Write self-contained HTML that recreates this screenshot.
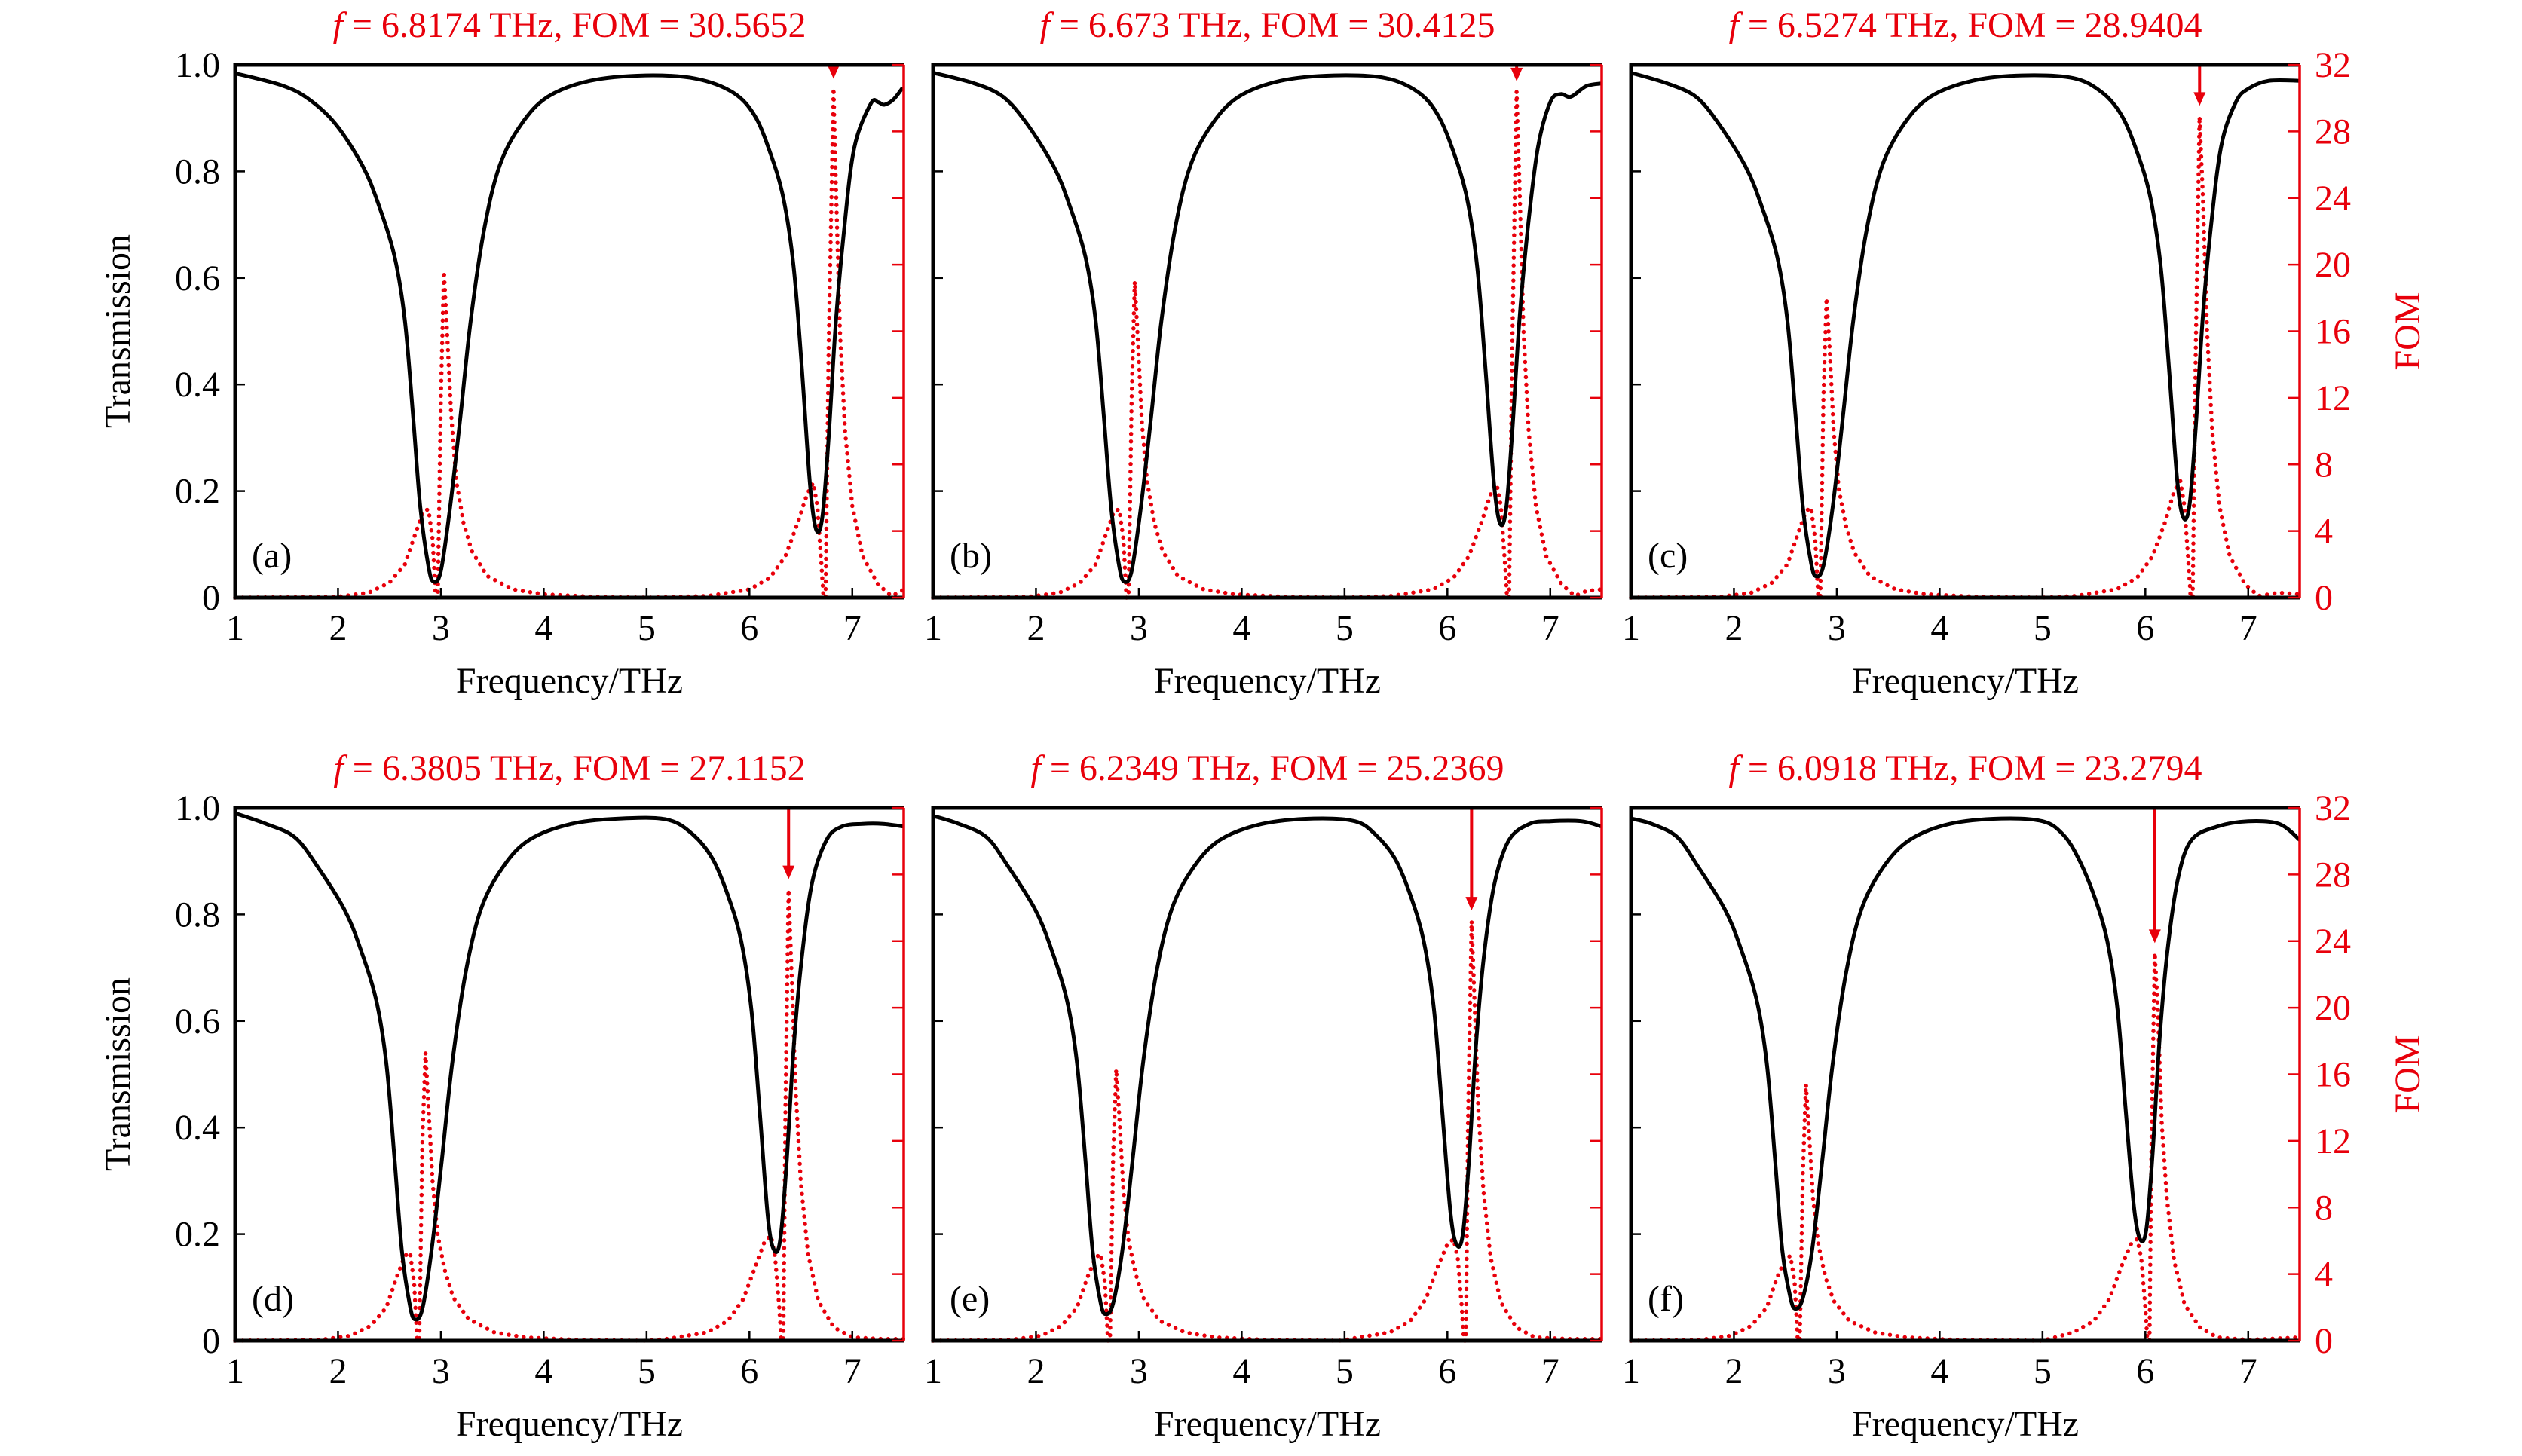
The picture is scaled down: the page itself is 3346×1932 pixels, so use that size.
<!DOCTYPE html>
<html><head><meta charset="utf-8"><style>
html,body{margin:0;padding:0;background:#fff;}
svg{display:block;}
text{font-family:"Liberation Serif","DejaVu Serif",serif;}
</style></head><body>
<svg id="fig" xmlns="http://www.w3.org/2000/svg" width="3346" height="1932" viewBox="0 0 3346 1932" font-family="Liberation Serif, DejaVu Serif, serif"></svg>
<script>
// ---- data ----
const panelLetters = ["(a)","(b)","(c)","(d)","(e)","(f)"];
const peakFreqs = ["6.8174","6.673","6.5274","6.3805","6.2349","6.0918"];
const peakFoms = ["30.5652","30.4125","28.9404","27.1152","25.2369","23.2794"];
const xTicks = [1,2,3,4,5,6,7];
const yTicksLeft = [0,0.2,0.4,0.6,0.8,1.0];
const yTickLabelsLeft = ["0","0.2","0.4","0.6","0.8","1.0"];
const yTicksRight = [0,4,8,12,16,20,24,28,32];

const transA = [[1,.984],[1.46,.961],[1.72,.935],[1.98,.888],[2.24,.81],[2.39,.74],[2.55,.64],[2.65,.52],[2.73,.34],[2.80,.17],[2.88,.058],[2.93,.03],[3.0,.05],[3.09,.17],[3.19,.34],[3.29,.52],[3.42,.69],[3.57,.81],[3.78,.888],[4.04,.94],[4.45,.97],[4.99,.98],[5.48,.974],[5.84,.948],[6.05,.905],[6.20,.836],[6.33,.75],[6.43,.62],[6.51,.43],[6.59,.21],[6.65,.127],[6.71,.153],[6.77,.30],[6.84,.516],[6.92,.69],[7.02,.845],[7.18,.927],[7.25,.93],[7.31,.925],[7.4,.935],[7.49,.957]];
const transB = [[1,.985],[1.4,.965],[1.68,.94],[1.91,.89],[2.17,.81],[2.32,.74],[2.48,.64],[2.58,.52],[2.66,.34],[2.73,.17],[2.81,.058],[2.86,.03],[2.93,.05],[3.02,.17],[3.12,.34],[3.22,.52],[3.35,.69],[3.50,.81],[3.71,.888],[3.97,.94],[4.38,.97],[4.9,.98],[5.4,.975],[5.72,.948],[5.91,.905],[6.06,.836],[6.19,.75],[6.29,.62],[6.37,.43],[6.45,.22],[6.51,.14],[6.57,.165],[6.63,.31],[6.70,.52],[6.78,.69],[6.88,.845],[7.0,.93],[7.1,.945],[7.2,.94],[7.35,.96],[7.5,.965]];
const transC = [[1,.985],[1.35,.965],[1.63,.94],[1.85,.89],[2.11,.81],[2.26,.74],[2.42,.64],[2.52,.52],[2.60,.34],[2.67,.17],[2.75,.065],[2.80,.04],[2.87,.06],[2.96,.17],[3.06,.34],[3.16,.52],[3.29,.69],[3.44,.81],[3.65,.888],[3.91,.94],[4.32,.97],[4.8,.98],[5.3,.975],[5.58,.948],[5.77,.905],[5.92,.836],[6.05,.75],[6.15,.62],[6.23,.43],[6.31,.22],[6.37,.15],[6.43,.175],[6.49,.32],[6.56,.53],[6.64,.70],[6.74,.85],[6.88,.93],[7.0,.955],[7.2,.97],[7.5,.97]];
const transD = [[1,.99],[1.3,.97],[1.58,.945],[1.8,.89],[2.06,.81],[2.21,.74],[2.37,.64],[2.47,.52],[2.55,.34],[2.62,.17],[2.70,.065],[2.75,.04],[2.82,.06],[2.91,.17],[3.01,.34],[3.11,.52],[3.24,.69],[3.39,.81],[3.60,.888],[3.86,.94],[4.27,.97],[4.75,.98],[5.2,.978],[5.45,.95],[5.64,.905],[5.79,.836],[5.92,.75],[6.02,.62],[6.10,.43],[6.18,.23],[6.24,.17],[6.30,.19],[6.36,.33],[6.43,.55],[6.51,.72],[6.61,.86],[6.75,.94],[6.9,.965],[7.1,.97],[7.3,.97],[7.5,.965]];
const transE = [[1,.985],[1.25,.97],[1.52,.945],[1.73,.89],[1.99,.81],[2.14,.74],[2.30,.64],[2.40,.52],[2.48,.34],[2.55,.17],[2.63,.07],[2.68,.05],[2.75,.07],[2.84,.17],[2.94,.34],[3.04,.52],[3.17,.69],[3.32,.81],[3.53,.888],[3.79,.94],[4.2,.97],[4.7,.98],[5.1,.975],[5.3,.95],[5.49,.905],[5.64,.836],[5.77,.75],[5.87,.62],[5.95,.43],[6.03,.24],[6.09,.18],[6.15,.20],[6.21,.34],[6.28,.56],[6.36,.73],[6.46,.86],[6.6,.94],[6.8,.97],[7.0,.975],[7.3,.975],[7.5,.965]];
const transF = [[1,.98],[1.2,.97],[1.45,.945],[1.65,.89],[1.91,.81],[2.06,.74],[2.22,.64],[2.32,.52],[2.40,.34],[2.47,.17],[2.55,.08],[2.60,.06],[2.67,.08],[2.76,.17],[2.86,.34],[2.96,.52],[3.09,.69],[3.24,.81],[3.45,.888],[3.71,.94],[4.1,.97],[4.6,.98],[5.0,.975],[5.2,.95],[5.35,.905],[5.5,.836],[5.63,.75],[5.73,.62],[5.81,.43],[5.89,.25],[5.95,.19],[6.01,.21],[6.07,.35],[6.14,.57],[6.22,.74],[6.32,.87],[6.45,.94],[6.7,.965],[7.0,.975],[7.3,.97],[7.5,.94]];

const fomA = [[1,0],[2.0,.05],[2.3,.3],[2.5,.9],[2.65,2],[2.75,3.8],[2.83,5.2],[2.88,5.3],[2.92,3.5],[2.95,0],[2.97,0],[3.0,12],[3.03,19.6],[3.06,16],[3.1,11],[3.15,7],[3.22,4.5],[3.3,2.8],[3.45,1.3],[3.7,.5],[4.0,.2],[4.5,.05],[5.0,0],[5.6,.1],[6.0,.5],[6.2,1.2],[6.35,2.5],[6.47,4.5],[6.56,6.2],[6.62,6.9],[6.66,5.5],[6.7,2],[6.72,0],[6.74,0],[6.77,15],[6.8174,30.6],[6.84,25],[6.88,16],[6.93,10],[7.0,5.5],[7.1,2.5],[7.25,.8],[7.38,.1],[7.45,.3],[7.5,.5]];
const fomB = [[1,0],[1.93,.05],[2.23,.3],[2.43,.9],[2.58,2],[2.68,3.8],[2.76,5.2],[2.81,5.3],[2.85,3.5],[2.88,0],[2.90,0],[2.93,12],[2.96,19],[2.99,15.5],[3.03,10.5],[3.08,7],[3.15,4.5],[3.23,2.8],[3.38,1.3],[3.63,.5],[3.93,.2],[4.43,.05],[5,0],[5.46,.1],[5.86,.5],[6.06,1.2],[6.21,2.5],[6.33,4.5],[6.42,6.2],[6.48,6.8],[6.52,5.5],[6.56,2],[6.58,0],[6.60,0],[6.63,15],[6.673,30.4],[6.70,25],[6.74,16],[6.79,10],[6.86,5.5],[6.96,2.5],[7.11,.8],[7.24,.1],[7.35,.4],[7.5,.5]];
const fomC = [[1,0],[1.87,.05],[2.17,.3],[2.37,.9],[2.52,2],[2.62,3.8],[2.70,5.2],[2.75,5.4],[2.79,3.5],[2.82,0],[2.84,0],[2.87,12],[2.90,18],[2.93,15],[2.97,10],[3.02,6.5],[3.09,4.3],[3.17,2.7],[3.32,1.3],[3.57,.5],[3.87,.2],[4.37,.05],[5,0],[5.32,.1],[5.72,.5],[5.92,1.2],[6.07,2.5],[6.19,4.5],[6.28,6.4],[6.34,7.0],[6.38,5.5],[6.42,2],[6.44,0],[6.46,0],[6.49,15],[6.527,28.9],[6.56,24],[6.60,16],[6.65,10],[6.72,5.5],[6.82,2.5],[6.97,.8],[7.1,.1],[7.3,.3],[7.5,.2]];
const fomD = [[1,0],[1.82,.05],[2.12,.3],[2.32,.9],[2.47,2],[2.57,3.8],[2.65,5.1],[2.70,5.3],[2.74,3.5],[2.77,0],[2.79,0],[2.82,12],[2.85,17.3],[2.88,14],[2.92,9.5],[2.97,6.3],[3.04,4.2],[3.12,2.6],[3.27,1.3],[3.52,.5],[3.82,.2],[4.32,.05],[5,0],[5.19,.1],[5.59,.5],[5.79,1.2],[5.94,2.5],[6.06,4.5],[6.15,6],[6.21,6.3],[6.25,5],[6.29,2],[6.31,0],[6.33,0],[6.35,14],[6.3805,27.1],[6.41,22],[6.45,15],[6.50,9.5],[6.57,5.2],[6.67,2.4],[6.82,.8],[7.0,.2],[7.3,.1],[7.5,.1]];
const fomE = [[1,0],[1.75,.05],[2.05,.3],[2.25,.9],[2.40,2],[2.50,3.8],[2.58,5],[2.63,5.2],[2.67,3.5],[2.70,0],[2.72,0],[2.75,11],[2.78,16.3],[2.81,13.5],[2.85,9],[2.90,6],[2.97,4],[3.05,2.5],[3.2,1.2],[3.45,.5],[3.75,.2],[4.25,.05],[5,0],[5.04,.1],[5.44,.5],[5.64,1.2],[5.79,2.5],[5.91,4.5],[6.0,5.8],[6.06,6.1],[6.1,5],[6.14,2],[6.16,0],[6.18,0],[6.2,13],[6.2349,25.2],[6.26,21],[6.3,14],[6.35,9],[6.42,5],[6.52,2.3],[6.67,.8],[6.85,.2],[7.2,.1],[7.5,.1]];
const fomF = [[1,0],[1.67,.05],[1.97,.3],[2.17,.9],[2.32,2],[2.42,3.8],[2.50,4.9],[2.55,5.1],[2.59,3.5],[2.62,0],[2.64,0],[2.67,10],[2.70,15.4],[2.73,12.5],[2.77,8.5],[2.82,5.8],[2.89,3.8],[2.97,2.4],[3.12,1.2],[3.37,.5],[3.67,.2],[4.17,.05],[5,0],[5.3,.5],[5.5,1.2],[5.65,2.5],[5.77,4.5],[5.86,5.8],[5.92,6.1],[5.96,5],[6.0,2],[6.02,0],[6.04,0],[6.06,12],[6.0918,23.3],[6.12,20],[6.16,13],[6.21,8.5],[6.28,4.8],[6.38,2.2],[6.53,.8],[6.7,.2],[7.0,.05],[7.5,.2]];

const transSeries = [transA,transB,transC,transD,transE,transF];
const fomSeries = [fomA,fomB,fomC,fomD,fomE,fomF];

// ---- layout ----
const NS = "http://www.w3.org/2000/svg";
const svg = document.getElementById("fig");
const colX = [312,1238,2164], rowY = [86,1072], W = 887, H = 707;
const RED = "#e8000b";
const FONT = "Liberation Serif, DejaVu Serif, serif";
function mk(tag, attrs, parent){ const e=document.createElementNS(NS,tag); for(const k in attrs) e.setAttribute(k,attrs[k]); (parent||svg).appendChild(e); return e; }
function smoothPath(pts){
  let d = "M"+pts[0][0].toFixed(1)+","+pts[0][1].toFixed(1);
  for(let i=0;i<pts.length-1;i++){
    const p0=pts[Math.max(0,i-1)], p1=pts[i], p2=pts[i+1], p3=pts[Math.min(pts.length-1,i+2)];
    const c1x=p1[0]+(p2[0]-p0[0])/6, c1y=p1[1]+(p2[1]-p0[1])/6;
    const c2x=p2[0]-(p3[0]-p1[0])/6, c2y=p2[1]-(p3[1]-p1[1])/6;
    d += ` C${c1x.toFixed(1)},${c1y.toFixed(1)} ${c2x.toFixed(1)},${c2y.toFixed(1)} ${p2[0].toFixed(1)},${p2[1].toFixed(1)}`;
  }
  return d;
}

for(let p=0;p<6;p++){
  const x0 = colX[p%3], y0 = rowY[Math.floor(p/3)];
  const xs = f => x0 + (f-1)/6.5*W;
  const ys = t => y0 + H - t*H;
  const yr = v => y0 + H - v/32*H;
  const g = mk("g",{"font-family":FONT});
  
  

  const tt = mk("text",{x:x0+W/2, y:y0-37, "text-anchor":"middle", "font-size":48, fill:RED}, g);
  
  
  tt.innerHTML = '<tspan font-style="italic">f</tspan> = ' + peakFreqs[p] + ' THz, FOM = ' + peakFoms[p];

  const fpts = fomSeries[p].map(d=>xs(d[0]).toFixed(1)+","+yr(d[1]).toFixed(1)).join(" ");
  const fl = mk("polyline",{points:fpts, fill:"none", stroke:RED, "stroke-width":5.5, "stroke-dasharray":"0 10", "stroke-linecap":"round", "stroke-linejoin":"round"}, g);
  
  

  const tp = transSeries[p].map(d=>[xs(d[0]), ys(d[1])]);
  const tl = mk("path",{d:smoothPath(tp), fill:"none", stroke:"#000", "stroke-width":5, "stroke-linejoin":"round"}, g);
  
  

  const pf = parseFloat(peakFreqs[p]), pv = parseFloat(peakFoms[p]);
  const ax = xs(pf), tipY = yr(pv+0.6);
  const al = mk("line",{x1:ax,y1:y0,x2:ax,y2:tipY-14,stroke:RED,"stroke-width":4}, g);
  
  
  const ah = mk("polygon",{points:`${ax-8},${tipY-18} ${ax+8},${tipY-18} ${ax},${tipY}`, fill:RED}, g);
  
  

  const fr = mk("path",{d:`M${x0+W},${y0} L${x0},${y0} L${x0},${y0+H} L${x0+W},${y0+H}`, fill:"none", stroke:"#000", "stroke-width":5}, g);
  
  
  const rr = mk("line",{x1:x0+W,y1:y0,x2:x0+W,y2:y0+H,stroke:RED,"stroke-width":3.5}, g);
  
  

  xTicks.forEach(v=>{
    const t = mk("line",{x1:xs(v),y1:y0+H,x2:xs(v),y2:y0+H-13,stroke:"#000","stroke-width":2.5}, g);
    
    
    const l = mk("text",{x:xs(v), y:y0+H+56, "text-anchor":"middle", "font-size":48, fill:"#000"}, g);
    
    
    l.textContent = v;
  });
  const xl = mk("text",{x:x0+W/2, y:y0+H+126, "text-anchor":"middle", "font-size":48, fill:"#000"}, g);
  
  
  xl.textContent = "Frequency/THz";

  yTicksLeft.forEach((v,i)=>{
    const t = mk("line",{x1:x0,y1:ys(v),x2:x0+13,y2:ys(v),stroke:"#000","stroke-width":2.5}, g);
    
    
    if(p%3===0){
      const l = mk("text",{x:x0-20, y:ys(v)+16, "text-anchor":"end", "font-size":48, fill:"#000"}, g);
      
      
      l.textContent = yTickLabelsLeft[i];
    }
  });
  yTicksRight.forEach(v=>{
    const t = mk("line",{x1:x0+W,y1:yr(v),x2:x0+W-15,y2:yr(v),stroke:RED,"stroke-width":2.5}, g);
    
    
    if(p%3===2){
      const l = mk("text",{x:x0+W+20, y:yr(v)+16, "text-anchor":"start", "font-size":48, fill:RED}, g);
      
      
      l.textContent = v;
    }
  });
  if(p%3===0){
    const yl = mk("text",{x:0,y:0,"text-anchor":"middle","font-size":48,fill:"#000",transform:`translate(172,${y0+H/2}) rotate(-90)`}, g);
    
    
    yl.textContent = "Transmission";
  }
  if(p%3===2){
    const yl = mk("text",{x:0,y:0,"text-anchor":"middle","font-size":48,fill:RED,transform:`translate(3210,${y0+H/2}) rotate(-90)`}, g);
    
    
    yl.textContent = "FOM";
  }
  const pl = mk("text",{x:x0+22, y:y0+H-40, "font-size":48, fill:"#000"}, g);
  
  
  pl.textContent = panelLetters[p];
}
</script>
</body></html>
